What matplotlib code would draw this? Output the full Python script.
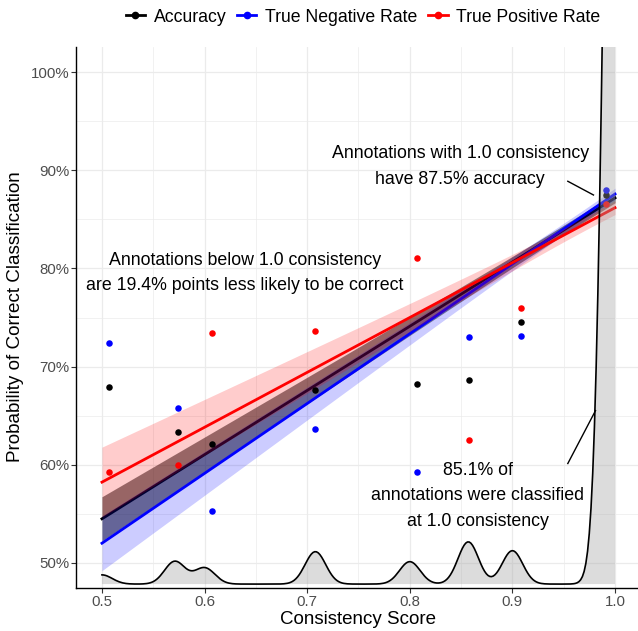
import numpy as np
import matplotlib
matplotlib.use('Agg')
import matplotlib.pyplot as plt
from matplotlib.lines import Line2D
from matplotlib.ticker import FuncFormatter, MultipleLocator

plt.rcParams['font.family'] = ['Liberation Sans', 'DejaVu Sans']

# ---------------- data ----------------
series = ['Accuracy', 'True Negative Rate', 'True Positive Rate']
series_colors = ['black', 'blue', 'red']

consistency = [0.507, 0.574, 0.607, 0.708, 0.807, 0.858, 0.908, 0.991]
accuracy = [0.679, 0.633, 0.621, 0.676, 0.682, 0.686, 0.745, 0.8755]
true_negative_rate = [0.724, 0.658, 0.553, 0.636, 0.592, 0.730, 0.731, 0.8806]
true_positive_rate = [0.5925, 0.600, 0.734, 0.736, 0.811, 0.625, 0.7595, 0.8663]

# linear fits: value at consistency 0.5 and at 1.0, CI half-widths there
fit_at_05 = [0.5446, 0.5197, 0.582]
fit_at_10 = [0.872, 0.876, 0.862]
ci_half_05 = [0.0225, 0.028, 0.0357]
ci_half_10 = [0.005, 0.006, 0.007]
ci_center = 0.97

# density of consistency scores (drawn as a ridge at the bottom)
dens_centers = [0.5, 0.571, 0.6, 0.708, 0.8, 0.857, 0.9, 1.0]
dens_heights = [0.0094, 0.0232, 0.0166, 0.0331, 0.0229, 0.0431, 0.0341, 1.2]
dens_bw = 0.010
dens_base = 0.478

x_ticks = [0.5, 0.6, 0.7, 0.8, 0.9, 1.0]
y_ticks = [0.5, 0.6, 0.7, 0.8, 0.9, 1.0]

# ---------------- figure ----------------
fig = plt.figure(figsize=(6.38, 6.31), dpi=100)
ax = fig.add_axes([76/638, 43/631, 562/638, 541/631])
ax.set_xlim(0.4747, 1.0224)
ax.set_ylim(0.474, 1.026)

ax.set_xticks(x_ticks)
ax.set_yticks(y_ticks)
ax.xaxis.set_minor_locator(MultipleLocator(0.05))
ax.yaxis.set_minor_locator(MultipleLocator(0.05))
ax.xaxis.set_major_formatter(FuncFormatter(lambda v, p: f'{v:.1f}'))
ax.yaxis.set_major_formatter(FuncFormatter(lambda v, p: f'{int(round(v*100))}%'))
ax.set_axisbelow(True)
ax.grid(which='major', color='#EBEBEB', lw=0.9)
ax.grid(which='minor', color='#EBEBEB', lw=0.5)
ax.tick_params(which='major', length=3.5, width=0.8, color='#333333',
               labelcolor='#4D4D4D', labelsize=10.8, pad=1.5)
ax.tick_params(which='minor', length=0)
for s in ['top', 'right']:
    ax.spines[s].set_visible(False)
for s in ['left', 'bottom']:
    ax.spines[s].set_color('black')
    ax.spines[s].set_linewidth(1.0)

# smooth bands + lines
xs = np.linspace(0.5, 1.0, 300)
band_alpha = [0.5, 0.2, 0.2]
d05 = 0.5 - ci_center
d10 = 1.0 - ci_center
for i, c in enumerate(series_colors):
    line = fit_at_05[i] + (fit_at_10[i] - fit_at_05[i]) * (xs - 0.5) / 0.5
    b2 = (ci_half_05[i]**2 - ci_half_10[i]**2) / (d05**2 - d10**2)
    a2 = max(ci_half_10[i]**2 - b2 * d10**2, 0)
    hw = np.sqrt(a2 + b2 * (xs - ci_center)**2)
    ax.fill_between(xs, line - hw, line + hw, color=c, alpha=band_alpha[i],
                    lw=0, zorder=2 + i)
    ax.plot(xs, line, color=c, lw=2.0, zorder=2.5 + i)

# points
for vals, c in zip([accuracy, true_negative_rate, true_positive_rate], series_colors):
    ax.scatter(consistency, vals, s=22, color=c, lw=0, zorder=6)

# density ridge
dens = np.full_like(xs, dens_base)
for cx, h in zip(dens_centers, dens_heights):
    dens += h * np.exp(-(xs - cx)**2 / (2 * dens_bw**2))
ax.fill_between(xs, dens_base, dens, color=(0.635, 0.635, 0.635), alpha=0.37,
                lw=0, zorder=7)
ax.plot(xs, dens, color='black', lw=1.2, zorder=8)

# annotations
ax.text(0.849, 0.904, 'Annotations with 1.0 consistency\nhave 87.5% accuracy',
        ha='center', va='center', fontsize=12.8, linespacing=1.75, zorder=9)
ax.plot([0.954, 0.979], [0.889, 0.875], color='black', lw=1, zorder=9)
ax.text(0.639, 0.795, 'Annotations below 1.0 consistency\nare 19.4% points less likely to be correct',
        ha='center', va='center', fontsize=12.8, linespacing=1.6, zorder=9)
ax.text(0.866, 0.568, '85.1% of\nannotations were classified\nat 1.0 consistency',
        ha='center', va='center', fontsize=12.8, linespacing=1.65, zorder=9)
ax.plot([0.954, 0.981], [0.601, 0.655], color='black', lw=1, zorder=9)

# axis titles
fig.text(358/638, 1 - 619/631, 'Consistency Score', ha='center', va='center', fontsize=13.5)
fig.text(16/638, 1 - 317/631, 'Probability of Correct Classification', ha='center',
         va='center', rotation=90, fontsize=13.6)

# legend
handles = [Line2D([0], [0], color=c, lw=2, marker='o', markersize=4.5) for c in series_colors]
fig.legend(handles, series, loc='center', bbox_to_anchor=(363/638, 1 - 17/631), ncol=3,
           frameon=False, fontsize=12.7, handlelength=1.1, handletextpad=0.5,
           columnspacing=0.6)

fig.savefig('out.png', dpi=100)
